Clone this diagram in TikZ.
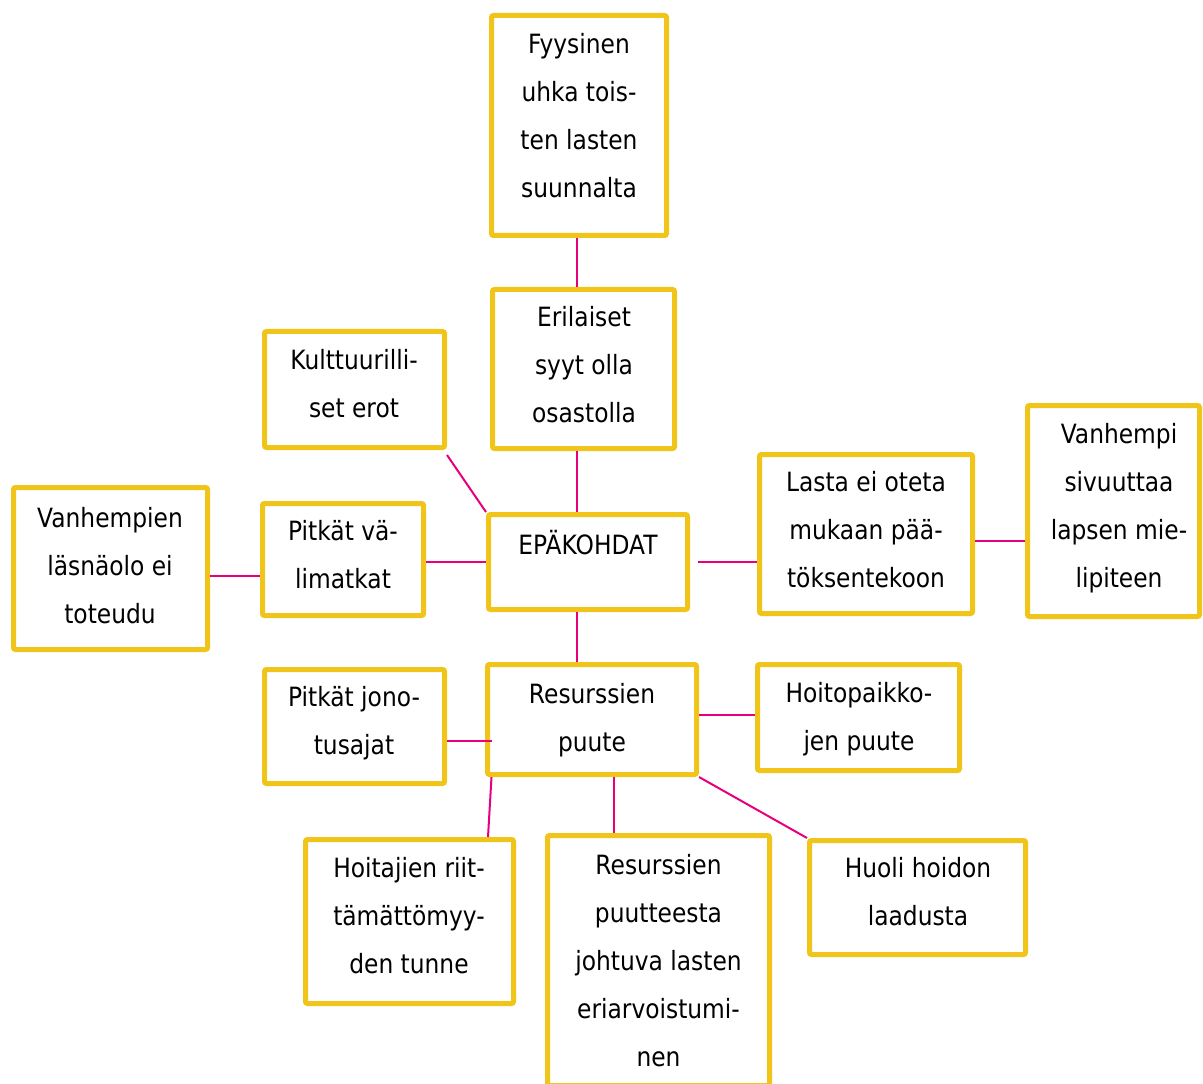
\documentclass[tikz,border=0pt]{standalone}
\usepackage{fontspec}
\setmainfont[FakeStretch=0.88]{DejaVu Sans}
\usetikzlibrary{calc}
\definecolor{boxyellow}{RGB}{240,196,25}
\definecolor{linkpink}{RGB}{230,0,126}
\newcommand{\mkbox}[5]{\node[bx, minimum width={(#4-#2-5)*0.75pt}, minimum height={(#5-#3-5)*0.75pt}] (#1) at ({(#2+#4)/2},{(#3+#5)/2}) {};}
\newcommand{\fs}{\rule{0pt}{20pt}}
\begin{document}
\begin{tikzpicture}[x=0.75pt,y=-0.75pt,
  bx/.style={draw=boxyellow, line width=3.75pt, rounded corners=1.5pt, inner sep=0pt, outer sep=1.875pt},
  tx/.style={anchor=north, yshift=2pt, align=center, inner sep=0pt, outer sep=0pt, font=\fontsize{19.9}{36}\selectfont},
  lk/.style={draw=linkpink, line width=1.5pt}]
\useasboundingbox (0,0) rectangle (1203,1084);
\clip (0,0) rectangle (1203,1084);
% boxes
\mkbox{b1}{489}{13}{669}{238}
\mkbox{b2}{490}{287}{677}{451}
\mkbox{b3}{262}{329}{447}{450}
\mkbox{b4}{486}{512}{690}{612}
\mkbox{b5}{260}{501}{426}{618}
\mkbox{b6}{11}{485}{210}{652}
\mkbox{b7}{757}{452}{975}{616}
\mkbox{b8}{1025}{403}{1202}{619}
\mkbox{b9}{485}{662}{699}{777}
\mkbox{b10}{262}{667}{447}{786}
\mkbox{b11}{755}{662}{962}{773}
\mkbox{b12}{303}{837}{516}{1006}
\mkbox{b13}{545}{833}{772}{1088}
\mkbox{b14}{807}{838}{1028}{957}
% texts
\node[tx] (t1) at (579,29.5) {\fs Fyysinen\\uhka tois-\\ten lasten\\suunnalta};
\node[tx] (t2) at (584,302.5) {\fs Erilaiset\\syyt olla\\osastolla};
\node[tx] (t3) at (354,345.5) {\fs Kulttuurilli-\\set erot};
\node[tx] (t4) at (588,530) {\fs EPÄKOHDAT};
\node[tx] (t5) at (343,516.5) {\fs Pitkät vä-\\limatkat};
\node[tx] (t6) at (110,503) {\fs Vanhempien\\läsnäolo ei\\toteudu};
\node[tx] (t7) at (866,467.5) {\fs Lasta ei oteta\\mukaan pää-\\töksentekoon};
\node[tx] (t8) at (1119,419.3) {\fs Vanhempi\\sivuuttaa\\lapsen mie-\\lipiteen};
\node[tx] (t9) at (592,679.3) {\fs Resurssien\\puute};
\node[tx] (t10) at (354,682.5) {\fs Pitkät jono-\\tusajat};
\node[tx] (t11) at (859,678.5) {\fs Hoitopaikko-\\jen puute};
\node[tx] (t12) at (409,853.5) {\fs Hoitajien riit-\\tämättömyy-\\den tunne};
\node[tx] (t13) at (658.5,850) {\fs Resurssien\\puutteesta\\johtuva lasten\\eriarvoistumi-\\nen};
\node[tx] (t14) at (918,853.5) {\fs Huoli hoidon\\laadusta};
% connectors
\draw[lk] ($(b1.south)+(-2,0)$) -- ($(b2.north)+(-6.5,0)$);
\draw[lk] ($(b2.south)+(-6.5,0)$) -- ($(b4.north)+(-11,0)$);
\draw[lk] ($(b3.south east)+(0,5)$) -- (b4.north west);
\draw[lk] ($(b5.east)+(0,2.5)$) -- (b4.west);
\draw[lk] ($(b6.east)+(0,7.5)$) -- ($(b5.west)+(0,16.5)$);
\draw[lk] ($(b4.east)+(8,0)$) -- ($(b7.west)+(0,28)$);
\draw[lk] ($(b7.east)+(0,7)$) -- ($(b8.west)+(0,30)$);
\draw[lk] ($(b4.south)+(-11,0)$) -- ($(b9.north)+(-15,0)$);
\draw[lk] ($(b10.east)+(0,14.5)$) -- ($(b9.west)+(7,21.5)$);
\draw[lk] ($(b9.east)+(0,-4.5)$) -- ($(b11.west)+(0,-2.5)$);
\draw[lk] ($(b9.south west)+(6.5,0)$) -- ($(b12.north)+(78.5,0)$);
\draw[lk] ($(b9.south)+(21.5,0)$) -- ($(b13.north)+(-45,0)$);
\draw[lk] (b9.south east) -- (b14.north west);
\end{tikzpicture}
\end{document}
